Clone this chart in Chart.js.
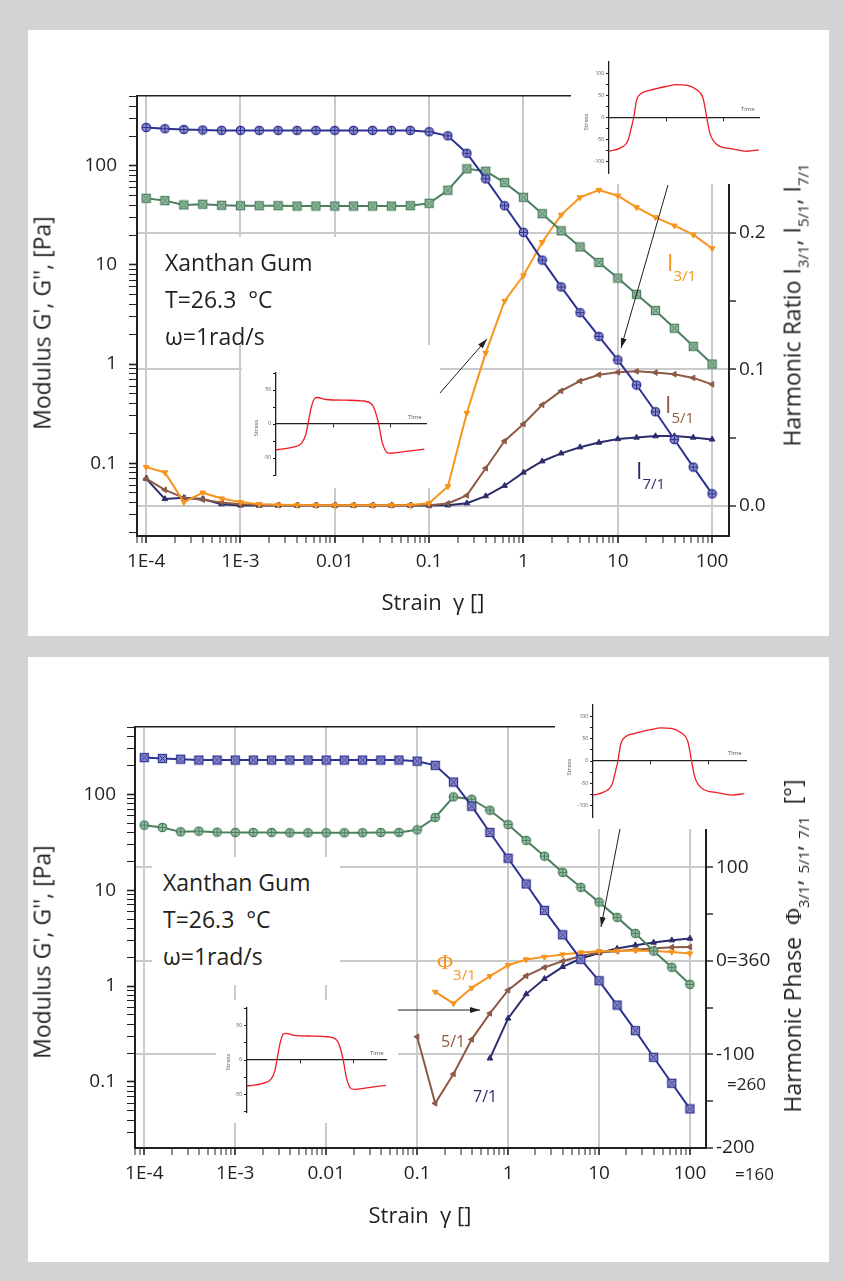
<!DOCTYPE html>
<html>
<head>
<meta charset="utf-8">
<title>Xanthan gum strain sweep</title>
<script src="https://cdn.jsdelivr.net/npm/chart.js@4.4.1/dist/chart.umd.min.js"></script>
<style>
html,body{margin:0;padding:0}
body{width:843px;height:1281px;background:#d1d3d4;position:relative;overflow:hidden;font-family:"Open Sans",sans-serif;color:#231f20}
.panel{position:absolute;left:28px;width:801px;background:#fff}
.main{position:absolute;left:0}
.box{position:absolute;background:#fff}
.box canvas{position:absolute;left:0;top:0}
.note{position:absolute;white-space:nowrap;line-height:1}
.rot{position:absolute;white-space:nowrap;line-height:1;transform:translate(-50%,-50%) rotate(-90deg)}
.sub{position:relative;font-size:15px}
.tiny{position:absolute;font-size:6px;color:#555;white-space:nowrap;line-height:1}
.info{position:absolute;background:#fff;font-size:23px;line-height:37px;white-space:nowrap;box-sizing:border-box}
.phi{font-family:"Liberation Serif",serif}
</style>
</head>
<body>

<div class="panel" style="top:30px;height:606px"></div>
<div class="panel" style="top:657px;height:605px"></div>

<canvas id="topChart" class="main" width="843" height="605" style="top:30px"></canvas>
<canvas id="bottomChart" class="main" width="843" height="605" style="top:657px"></canvas>

<!-- top panel: text box and insets -->
<div class="info" style="left:150px;top:237px;width:275px;height:108px;padding:7px 0 0 15px">Xanthan Gum<br>T=26.3&nbsp;&nbsp;°C<br>ω=1rad/s</div>
<div class="box" style="left:571px;top:50px;width:204px;height:134px"><canvas id="insetTopA" width="204" height="134"></canvas></div>
<div class="box" style="left:242px;top:345px;width:198px;height:143px"><canvas id="insetTopB" width="198" height="143"></canvas></div>

<!-- bottom panel: text box and insets -->
<div class="info" style="left:152px;top:857px;width:188px;height:128px;padding:7px 0 0 11px">Xanthan Gum<br>T=26.3&nbsp;&nbsp;°C<br>ω=1rad/s</div>
<div class="box" style="left:555px;top:688px;width:220px;height:141px"><canvas id="insetBotA" width="220" height="141"></canvas></div>
<div class="box" style="left:216px;top:1000px;width:182px;height:123px"><canvas id="insetBotB" width="182" height="123"></canvas></div>

<!-- inset axis words -->
<div class="tiny rot" style="left:586px;top:122px">Stress</div>
<div class="tiny" style="left:741px;top:106px">Time</div>
<div class="tiny rot" style="left:256px;top:428px">Stress</div>
<div class="tiny" style="left:408px;top:414px">Time</div>
<div class="tiny rot" style="left:569px;top:767px">Stress</div>
<div class="tiny" style="left:728px;top:750px">Time</div>
<div class="tiny rot" style="left:228px;top:1062px">Stress</div>
<div class="tiny" style="left:370px;top:1050px">Time</div>

<!-- axis titles -->
<div class="rot" style="left:42px;top:323px;font-size:23px">Modulus G', G'', [Pa]</div>
<div class="rot" style="left:42px;top:952px;font-size:23px">Modulus G', G'', [Pa]</div>
<div class="note" style="left:433px;top:590px;font-size:22px;transform:translateX(-50%)">Strain&nbsp;&nbsp;γ []</div>
<div class="note" style="left:420px;top:1203px;font-size:22px;transform:translateX(-50%)">Strain&nbsp;&nbsp;γ []</div>
<div class="rot" style="left:792px;top:305px;font-size:23px">Harmonic Ratio I<span class="sub" style="top:8px">3/1</span>, I<span class="sub" style="top:8px">5/1</span>, I<span class="sub" style="top:8px">7/1</span></div>
<div class="rot" style="left:793px;top:946px;font-size:23px">Harmonic Phase&nbsp;&nbsp;<span class="phi">Φ</span><span class="sub" style="top:8px">3/1</span>, <span class="sub" style="top:8px">5/1</span>, <span class="sub" style="top:8px">7/1</span>&nbsp;&nbsp;[°]</div>
<div class="note" style="left:727px;top:1075px;font-size:17px">=260</div>
<div class="note" style="left:735px;top:1165px;font-size:17px">=160</div>

<!-- series notes -->
<div class="note" style="left:667px;top:251px;font-size:23px;color:#f7941d">I<span class="sub" style="top:10px">3/1</span></div>
<div class="note" style="left:665px;top:393px;font-size:23px;color:#8c5a45">I<span class="sub" style="top:10px">5/1</span></div>
<div class="note" style="left:636px;top:459px;font-size:23px;color:#2c2d6c">I<span class="sub" style="top:10px">7/1</span></div>
<div class="note" style="left:437px;top:949px;font-size:22px;color:#f7941d"><span class="phi">Φ</span><span class="sub" style="top:11px">3/1</span></div>
<div class="note" style="left:441px;top:1033px;font-size:16px;color:#8c5a45">5/1</div>
<div class="note" style="left:473px;top:1088px;font-size:16px;color:#2c2d6c">7/1</div>

<svg width="843" height="1281" style="position:absolute;left:0;top:0">
<defs><marker id="ah" markerWidth="10" markerHeight="6" refX="10" refY="3" orient="auto" markerUnits="userSpaceOnUse"><path d="M0,0 L10,3 L0,6 z" fill="#231f20"/></marker></defs>
<g stroke="#231f20" stroke-width="1" marker-end="url(#ah)">
<line x1="440" y1="393" x2="487" y2="339"/>
<line x1="668" y1="185" x2="621" y2="348"/>
<line x1="398" y1="1010" x2="480" y2="1010"/>
<line x1="620" y1="829" x2="601" y2="927"/>
</g>
</svg>

<script>
/* =========================
   DATA
========================= */

const strain = [0.0001,0.000158,0.000251,0.000398,0.000631,0.001,0.00158,0.00251,0.00398,0.00631,0.01,0.0158,0.0251,0.0398,0.0631,0.1,0.158,0.251,0.398,0.631,1,1.58,2.51,3.98,6.31,10,15.8,25.1,39.8,63.1,100]

/* top plot: moduli + harmonic ratios */
const gPrimeTop = [244,237,233,230,228,228,228,228,228,228,228,228,228,228,228,221,201,134,74,39.6,21.3,11.2,6.0,3.3,1.90,1.10,0.614,0.330,0.173,0.0912,0.049]
const gDoublePrimeTop = [47.1,44.6,40.3,41.0,40.0,39.6,39.6,39.6,39.3,39.3,39.3,39.3,39.3,39.3,39.6,41.9,56.8,93.3,88.4,67.8,48.2,32.9,22.1,15.2,10.6,7.38,5.05,3.47,2.30,1.51,1.00]
const ratio3 = [0.0284,0.0245,0.0028,0.0097,0.0054,0.0028,0.0013,0.0008,0.0006,0.0005,0.0005,0.0005,0.0005,0.0005,0.0006,0.002,0.0143,0.068,0.112,0.150,0.1686,0.193,0.213,0.2258,0.2312,0.227,0.2185,0.2112,0.2051,0.1985,0.1885]
const ratio5 = [0.020,0.0118,0.0059,0.0046,0.0026,0.0012,0.0008,0.0006,0.0005,0.0005,0.0005,0.0005,0.0005,0.0005,0.0005,0.0005,0.0018,0.0077,0.0276,0.0475,0.060,0.074,0.0842,0.0914,0.096,0.0979,0.0985,0.0976,0.0964,0.0937,0.089]
const ratio7 = [0.020,0.0051,0.0059,0.0051,0.0013,0.0004,0.0003,0.0003,0.0003,0.0003,0.0003,0.0003,0.0003,0.0003,0.0003,0.0003,0.0005,0.002,0.0072,0.0148,0.0245,0.0327,0.0385,0.043,0.0464,0.049,0.0501,0.0511,0.0511,0.0501,0.0487]

/* bottom plot: moduli + harmonic phases */
const gPrimeBottom = [241,236,232,227,227,227,227,227,227,227,227,227,227,227,227,221,200,134,75,39.9,21.5,11.6,6.15,3.42,1.90,1.135,0.634,0.343,0.181,0.097,0.0524]
const gDoublePrimeBottom = [47.6,45,40.5,41.2,40.2,39.9,39.9,39.9,39.6,39.6,39.6,39.6,39.6,39.9,39.9,42.5,57.2,93.7,88.7,68.1,48.3,33,22.6,15.3,10.7,7.5,5.2,3.54,2.32,1.57,1.04]
const phase3 = [null,null,null,null,null,null,null,null,null,null,null,null,null,null,null,null,-33.1,-45.5,-28.8,-16.3,-4.6,1.5,4.3,6.8,9.0,10.4,10.7,11.1,10.7,9.6,7.9]
const phase5 = [null,null,null,null,null,null,null,null,null,null,null,null,null,null,null,-81.1,-152.2,-120.9,-83.9,-56.1,-31.3,-16.0,-7.0,-0.3,5.3,9.0,10.4,12.2,13.2,14.6,14.9]
const phase7 = [null,null,null,null,null,null,null,null,null,null,null,null,null,null,null,null,null,null,null,-104.2,-61.5,-35.5,-19.2,-6.4,2.5,8.5,13.2,16.8,19.6,22.1,23.9]

/* tick labels */
const xTickValues = [1e-4,1e-3,0.01,0.1,1,10,100]
const xTickLabels = ['1E-4','1E-3','0.01','0.1','1','10','100']
const yTickValues = [0.1,1,10,100]
const yTickLabels = ['0.1','1','10','100']
const ratioTicks = [0,0.05,0.1,0.15,0.2,0.25]
const ratioTickValues = [0,0.1,0.2]
const ratioTickLabels = ['0.0','0.1','0.2']
const phaseTicks = [-200,-150,-100,-50,0,50,100,150,200]
const phaseTickValues = [-200,-100,0,100]
const phaseTickLabels = ['-200','-100','0=360','100']

/* inset stress waveforms */
const waveTimeA = [0,0.19,0.33,0.39,0.43,0.48,0.56,0.71,1.0,1.17,1.35,1.52,1.63,1.67,1.70,1.76,1.87,2.16,2.40,2.61]
const waveStressA = [-76,-69,-52,-22,0,39,54,61,70,74,73,63,46,23,0,-37,-60,-71,-76,-73]
const waveTimeB = [0,0.30,0.45,0.52,0.56,0.62,0.68,0.73,0.88,1.23,1.51,1.69,1.75,1.80,1.86,1.95,2.03,2.21,2.60]
const waveStressB = [-38,-34,-28,-16,0,25,38,39,36,35,34,28,16,0,-26,-42,-43,-41,-37]
const insetTimeTicks = [1,2]
const stressTicksA = [-100,-75,-50,-25,0,25,50,75,100]
const stressLabelsA = [-100,-50,0,50,100]
const stressTicksB = [-75,-50,-25,0,25,50,75]
const stressLabelsB = [-50,0,50]


/* =========================
   STYLE
========================= */

const FONT = "'Open Sans', sans-serif"
const INK = '#231f20'
const GRID = '#c9cacb'
const BLUE = '#2e3192'
const GREEN = '#4c7f5f'
const ORANGE = '#f7941d'
const BROWN = '#8c5a45'
const NAVY = '#2c2d6c'
const RED = '#ed1c24'
const NONE = 'rgba(0,0,0,0)'

Chart.defaults.font.family = FONT
Chart.defaults.color = INK


/* =========================
   HELPERS
========================= */

function pts(xs,ys){
return xs.map((x,i)=>({x:x,y:ys[i]}))
}

function isDecade(v){
const l = Math.log10(v)
return Math.abs(l-Math.round(l)) < 1e-6
}

function logTicks(min,max){
const out = []
for(let e=Math.floor(Math.log10(min)); e<=Math.ceil(Math.log10(max)); e++){
for(let m=1;m<10;m++){
const v = m*Math.pow(10,e)
if(v>=min && v<=max) out.push({value:v})
}
}
return out
}

function pick(v,values,labels){
const i = values.findIndex(t=>Math.abs(t-v) <= Math.abs(t)*1e-6+1e-9)
return i>=0 ? labels[i] : ''
}

function circlePlus(fill,stroke){
const c = document.createElement('canvas')
c.width = c.height = 11
const g = c.getContext('2d')
g.beginPath(); g.arc(5.5,5.5,4.2,0,Math.PI*2)
g.fillStyle = fill; g.fill()
g.lineWidth = 1.3; g.strokeStyle = stroke; g.stroke()
g.beginPath(); g.moveTo(5.5,1.8); g.lineTo(5.5,9.2); g.moveTo(1.8,5.5); g.lineTo(9.2,5.5)
g.lineWidth = 1; g.stroke()
return c
}

function squareX(fill,stroke){
const c = document.createElement('canvas')
c.width = c.height = 11
const g = c.getContext('2d')
g.fillStyle = fill; g.fillRect(1.5,1.5,8,8)
g.lineWidth = 1.3; g.strokeStyle = stroke; g.strokeRect(1.5,1.5,8,8)
g.beginPath(); g.moveTo(3,3); g.lineTo(8,8); g.moveTo(8,3); g.lineTo(3,8)
g.lineWidth = 1; g.stroke()
return c
}

function modulusSet(ys,color,marker){
return {data:pts(strain,ys),xAxisID:'x',yAxisID:'y',borderColor:color,borderWidth:2,
pointStyle:marker,pointRadius:4.5,tension:0}
}

function harmonicSet(ys,color,rot){
return {data:pts(strain,ys),xAxisID:'x',yAxisID:'y2',borderColor:color,borderWidth:2,
pointStyle:'triangle',pointRotation:rot,pointRadius:3.3,pointBackgroundColor:color,pointBorderColor:color,pointBorderWidth:1,tension:0}
}

/* main plot: g = geometry of the canvas, r = right axis setup */
function mainChart(id,datasets,g,r){

return new Chart(document.getElementById(id),{
type:'line',
data:{datasets:datasets},
options:{
responsive:false,
animation:false,
devicePixelRatio:1,
layout:{padding:{top:g.top,left:0,right:0,bottom:0}},
plugins:{legend:{display:false},tooltip:{enabled:false}},
scales:{
x:{
type:'logarithmic',position:'bottom',min:g.xMin,max:g.xMax,
afterBuildTicks:s=>{s.ticks = logTicks(s.min,s.max)},
afterFit:s=>{s.height = g.xH},
ticks:{autoSkip:false,maxRotation:0,padding:7,font:{size:19},
callback:v=>pick(v,xTickValues,xTickLabels)},
grid:{color:c=>c.tick && isDecade(c.tick.value) ? GRID : NONE,lineWidth:2,
tickColor:INK,tickLength:7,tickWidth:c=>c.tick && isDecade(c.tick.value) ? 1.6 : 1},
border:{color:INK,width:2}
},
xTop:{
type:'logarithmic',position:'top',min:g.xMin,max:g.xMax,
afterFit:s=>{s.height = 0},
ticks:{display:false},
grid:{display:false},
border:{color:INK,width:1.5}
},
y:{
type:'logarithmic',position:'left',min:g.yMin,max:g.yMax,
afterBuildTicks:s=>{s.ticks = logTicks(s.min,s.max)},
afterFit:s=>{s.width = g.left},
ticks:{autoSkip:false,padding:g.yPad,font:{size:19},
callback:v=>pick(v,yTickValues,yTickLabels)},
grid:{drawOnChartArea:false,tickColor:INK,tickLength:8,
tickWidth:c=>c.tick && isDecade(c.tick.value) ? 1.6 : 1},
border:{color:INK,width:2}
},
y2:{
type:'linear',position:'right',min:r.min,max:r.max,
afterBuildTicks:s=>{s.ticks = r.ticks.map(v=>({value:v}))},
afterFit:s=>{s.width = g.right},
ticks:{autoSkip:false,padding:3,font:{size:19},
callback:v=>pick(v,r.values,r.labels)},
grid:{color:c=>c.tick && pick(c.tick.value,r.values,r.values) !== '' && c.tick.value !== r.min ? GRID : NONE,lineWidth:2,
tickColor:INK,tickLength:7,tickWidth:1.4},
border:{color:INK,width:2}
}
}
}
})

}

/* small stress/time inset */
function insetChart(id,times,stress,g){

return new Chart(document.getElementById(id),{
type:'line',
data:{datasets:[{data:pts(times,stress),borderColor:RED,borderWidth:1.3,pointRadius:0,
cubicInterpolationMode:'monotone',fill:false}]},
options:{
responsive:false,
animation:false,
devicePixelRatio:1,
layout:{padding:{top:g.t,right:g.w-g.r,bottom:g.h-g.b,left:0}},
plugins:{legend:{display:false},tooltip:{enabled:false}},
scales:{
x:{
type:'linear',min:0,max:g.tMax,position:{y:0},
afterBuildTicks:s=>{s.ticks = insetTimeTicks.map(v=>({value:v}))},
ticks:{display:false},
grid:{drawOnChartArea:false,tickLength:3,tickColor:INK},
border:{color:INK,width:1.3}
},
y:{
type:'linear',min:-g.yMax,max:g.yMax,
afterBuildTicks:s=>{s.ticks = g.ticks.map(v=>({value:v}))},
afterFit:s=>{s.width = g.l},
ticks:{autoSkip:false,padding:2,color:'#555',font:{size:5},
callback:v=>g.labels.includes(v) ? String(v) : ''},
grid:{drawOnChartArea:false,tickLength:3,tickColor:INK},
border:{color:INK,width:1.3}
}
}
}
})

}


/* =========================
   TOP PLOT
========================= */

mainChart('topChart',[
modulusSet(gPrimeTop,BLUE,circlePlus('#8d8fc9',BLUE)),
modulusSet(gDoublePrimeTop,GREEN,squareX('#93bca1',GREEN)),
harmonicSet(ratio3,ORANGE,180),
harmonicSet(ratio5,BROWN,-90),
harmonicSet(ratio7,NAVY,0)
],{
top:66,left:137,right:114,xH:99,yPad:12,
xMin:8e-5,xMax:151,yMin:0.0184,yMax:507
},{
min:-0.022,max:0.3,ticks:ratioTicks,values:ratioTickValues,labels:ratioTickLabels
})


/* =========================
   BOTTOM PLOT
========================= */

mainChart('bottomChart',[
modulusSet(gPrimeBottom,BLUE,squareX('#8d8fc9',BLUE)),
modulusSet(gDoublePrimeBottom,GREEN,circlePlus('#93bca1',GREEN)),
harmonicSet(phase3,ORANGE,180),
harmonicSet(phase5,BROWN,-90),
harmonicSet(phase7,NAVY,0)
],{
top:70,left:135,right:137,xH:114,yPad:11,
xMin:7.9e-5,xMax:150,yMin:0.0205,yMax:502
},{
min:-200,max:250,ticks:phaseTicks,values:phaseTickValues,labels:phaseTickLabels
})


/* =========================
   INSETS
========================= */

insetChart('insetTopA',waveTimeA,waveStressA,{w:204,h:134,l:38,r:188,t:12,b:123,tMax:2.61,yMax:125,ticks:stressTicksA,labels:stressLabelsA})
insetChart('insetTopB',waveTimeB,waveStressB,{w:198,h:143,l:34,r:184,t:28,b:130,tMax:2.63,yMax:75,ticks:stressTicksB,labels:stressLabelsB})
insetChart('insetBotA',waveTimeA,waveStressA,{w:220,h:141,l:38,r:191,t:17,b:129,tMax:2.64,yMax:125,ticks:stressTicksA,labels:stressLabelsA})
insetChart('insetBotB',waveTimeB,waveStressB,{w:182,h:123,l:31,r:170,t:8,b:112,tMax:2.6,yMax:76,ticks:stressTicksB,labels:stressLabelsB})
</script>
</body>
</html>
